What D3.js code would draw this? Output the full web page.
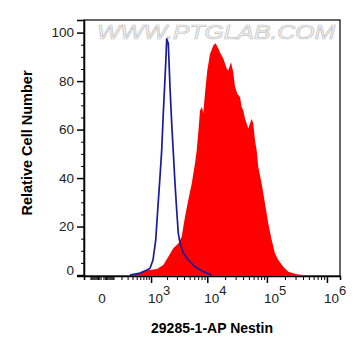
<!DOCTYPE html>
<html><head><meta charset="utf-8">
<script src="https://cdn.jsdelivr.net/npm/d3@7"></script>
<style>
html,body{margin:0;padding:0;background:#fff;}
svg{display:block;}
text{font-family:"Liberation Sans",Arial,sans-serif;}
</style></head>
<body>
<svg id="c" width="361" height="356"></svg>
<script>
// Control (isotype) histogram - blue line
const blueX = [346, 592, 830, 953, 1091, 1230, 1342, 1482, 1594, 1707, 1889, 1970, 2106, 2259, 2423, 2588, 2774, 2974, 3172, 3398, 3881, 4740, 6179, 8561, 11884];
const blueY = [0, 0.8, 2.1, 2.8, 6.2, 14.4, 26.7, 40.5, 51.4, 66.7, 87.2, 97.4, 95.5, 77.5, 62.6, 50.6, 37.9, 26.7, 17.3, 13.2, 9.1, 6.2, 3.4, 1.4, 0];
// Nestin stained histogram - red fill
const redX = [411, 910, 1302, 1707, 2106, 2588, 3172, 3640, 4154, 4740, 5424, 6179, 6608, 7092, 7524, 8136, 8561, 9144, 10005, 11126, 12650, 13774, 15173, 16400, 18630, 21260, 22610, 25090, 27430, 29290, 32000, 35490, 37910, 40320, 43040, 48880, 55710, 59250, 63250, 67520, 71800, 81770, 92860, 105440, 120150, 136420, 154780, 187200, 227100, 313700, 403600];
const redY = [0, 2.1, 2.5, 4.1, 7.5, 11.0, 13.0, 15.8, 24.0, 30.9, 37.7, 46.0, 51.4, 59.7, 67.9, 69.3, 66.7, 74.9, 84.4, 91.2, 94.7, 95.6, 93.8, 91.8, 89.3, 85.2, 84.4, 87.8, 83.5, 77.8, 74.8, 73.4, 69.3, 67.9, 64.6, 60.4, 64.5, 62.4, 55.6, 51.4, 44.6, 37.7, 29.5, 21.3, 14.4, 8.9, 6.2, 3.4, 1.4, 0.3, 0];

const yTickValues = [0, 20, 40, 60, 80, 100];
const yMinorValues = [5, 10, 15, 25, 30, 35, 45, 50, 55, 65, 70, 75, 85, 90, 95];
const xMajorValues = [1e3, 1e4, 1e5, 1e6];
const xMajorExp = ["3", "4", "5", "6"];
const xZeroLabel = "0";
const xLabel = "29285-1-AP Nestin";
const yLabel = "Relative Cell Number";
const watermark = "WWW.PTGLAB.COM";

const L = 84, R = 340, T = 20, B = 276;
const svg = d3.select("#c");

const x = d3.scaleSymlog().constant(180).domain([-179, 1.65e6]).range([L, R]);
const y = d3.scaleLinear().domain([-0.4, 105.2]).range([B, T]);

// minor x ticks
const xMinor = [];
for (let k = 1; k <= 10; k++) xMinor.push(-k * 10);
for (let e = 1; e <= 5; e++) for (let k = 1; k <= 9; k++) {
  const v = k * Math.pow(10, e);
  if (!xMajorValues.includes(v)) xMinor.push(v);
}

// watermark
svg.append("text").attr("x", 97).attr("y", 39)
  .attr("textLength", 238).attr("lengthAdjust", "spacingAndGlyphs")
  .attr("font-size", 20).attr("fill", "#f7f7f7").attr("stroke", "#c4c4c4")
  .attr("stroke-width", 0.7).attr("font-style", "italic")
  .text(watermark);

// clip
svg.append("clipPath").attr("id", "clip").append("rect")
  .attr("x", L).attr("y", T).attr("width", R - L).attr("height", B - T);

const redData = redX.map((v, i) => [v, redY[i]]);
const blueData = blueX.map((v, i) => [v, blueY[i]]);

svg.append("path").datum(redData)
  .attr("clip-path", "url(#clip)")
  .attr("fill", "#ff0000")
  .attr("d", d3.area().x(d => x(d[0])).y0(y(0)).y1(d => y(d[1])));

svg.append("path").datum(blueData)
  .attr("clip-path", "url(#clip)")
  .attr("fill", "none").attr("stroke", "#1a1a9e").attr("stroke-width", 1.7)
  .attr("stroke-linejoin", "round")
  .attr("d", d3.line().x(d => x(d[0])).y(d => y(d[1])));

// frame
svg.append("rect").attr("x", L).attr("y", T).attr("width", R - L).attr("height", B - T)
  .attr("fill", "none").attr("stroke", "#000").attr("stroke-width", 1.2);

// y axis
const yAxis = svg.append("g").attr("transform", `translate(${L},0)`)
  .call(d3.axisLeft(y).tickValues(yTickValues).tickSize(7).tickPadding(3));
yAxis.select(".domain").attr("stroke-width", 1.5);
yAxis.selectAll(".tick line").attr("stroke-width", 1.5);
yAxis.selectAll(".tick text").attr("font-size", 13.5).attr("fill", "#222")
  .attr("font-family", "'Liberation Sans',Arial,sans-serif")
  .attr("dy", d => d === 0 ? "-0.05em" : "0.32em");
svg.append("g").attr("transform", `translate(${L},0)`)
  .call(d3.axisLeft(y).tickValues(yMinorValues).tickSize(3).tickFormat(""))
  .call(g => g.select(".domain").remove())
  .selectAll(".tick line").attr("stroke-width", 1);

// x axis
const xAxisMinor = svg.append("g").attr("transform", `translate(0,${B})`)
  .call(d3.axisBottom(x).tickValues(xMinor).tickSize(4).tickFormat(""));
xAxisMinor.select(".domain").attr("stroke-width", 1.5);
xAxisMinor.selectAll(".tick line").attr("stroke-width", 1);
const xAxisMajor = svg.append("g").attr("transform", `translate(0,${B})`)
  .call(d3.axisBottom(x).tickValues(xMajorValues).tickSize(7).tickFormat(""));
xAxisMajor.select(".domain").remove();
xAxisMajor.selectAll(".tick line").attr("stroke-width", 1.5);

// x tick labels
svg.append("text").attr("x", x(0)).attr("y", 303).attr("text-anchor", "middle")
  .attr("font-size", 13.5).attr("fill", "#222").text(xZeroLabel);
xMajorValues.forEach((v, i) => {
  const t = svg.append("text").attr("x", x(v) - 3).attr("y", 303)
    .attr("font-size", 13.5).attr("fill", "#222");
  t.append("tspan").text("10");
  t.append("tspan").attr("dy", -8).attr("font-size", 13).text(xMajorExp[i]);
});

// axis titles
svg.append("text").attr("x", (L + R) / 2 - 0).attr("y", 333).attr("text-anchor", "middle")
  .attr("font-size", 14).attr("font-weight", "bold").attr("fill", "#000").text(xLabel);
svg.append("text").attr("transform", "translate(31.5,143) rotate(-90)")
  .attr("text-anchor", "middle").attr("font-size", 14.5).attr("font-weight", "bold")
  .attr("fill", "#000").text(yLabel);
</script>
</body></html>
